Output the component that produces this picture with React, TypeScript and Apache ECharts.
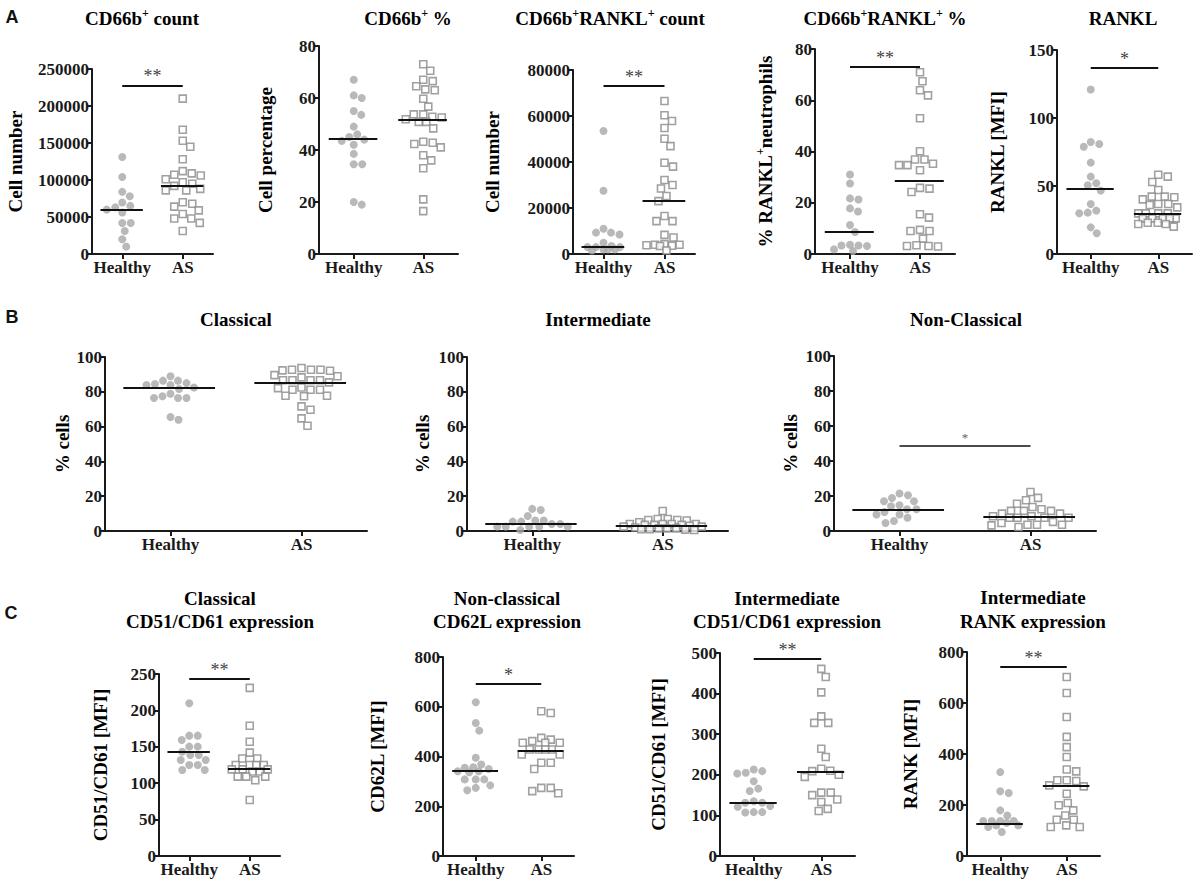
import React, { useEffect, useRef } from "react";
import * as echarts from "echarts";

// ---------------- data ----------------
const GROUPS = ["Healthy", "AS"];
const GROUP_X = [1, 3];

// Panel A
const cd66bCountHealthy = [131000, 104000, 84000, 78000, 69500, 65000, 63000, 60000, 56000, 42000, 42000, 31000, 20000, 10000];
const cd66bCountAS = [210000, 168000, 153000, 145000, 128000, 112000, 109000, 107000, 106000, 101000, 97000, 95000, 92000, 88000, 86000, 86000, 70000, 68000, 64000, 59000, 54000, 48000, 48000, 42000, 31000];
const cd66bCountMedian = [59600, 92000];

const cd66bPctHealthy = [67, 61, 60, 55, 53.5, 49, 46, 45, 44, 43.5, 42, 38.5, 34.5, 34.5, 20, 19];
const cd66bPctAS = [73, 70.5, 67, 66.5, 64.5, 63.3, 63, 59.7, 56.7, 53.7, 53.7, 52.8, 52.5, 51.8, 50.8, 50.8, 48.3, 43.2, 42.8, 42.3, 41, 38, 36, 33, 21, 16.5];
const cd66bPctMedian = [44.4, 51.8];

const rankCountHealthy = [53500, 27500, 11000, 9300, 9300, 8500, 4900, 3500, 3000, 3000, 3000, 2000, 2000, 2000, 1500];
const rankCountAS = [66500, 60300, 57800, 54800, 50100, 46900, 39700, 38000, 32200, 30000, 28500, 25200, 23000, 16500, 14300, 14300, 8300, 7200, 4300, 4000, 4000, 3800, 3600, 3500, 1500];
const rankCountMedian = [3200, 23000];

const rankPctHealthy = [31, 27.5, 21.7, 21.3, 17.8, 16.6, 11.3, 8.6, 3.6, 3.3, 3.3, 3.1, 1.8, 1.2];
const rankPctAS = [70.9, 67.4, 63.9, 61.9, 53, 40.1, 36.9, 36.9, 35.2, 34.7, 34.7, 32.7, 25.8, 25.5, 24.2, 15.5, 14.2, 9.4, 9, 9, 6, 3.4, 3.1, 3.1, 2.9];
const rankPctMedian = [8.6, 28.4];

const ranklMfiHealthy = [121, 82.4, 80.9, 78.9, 67.2, 56.9, 52, 50.5, 46.6, 36.8, 31.9, 30.4, 29.9, 19.6, 15.2];
const ranklMfiAS = [58.3, 56.9, 52.9, 47.1, 42.2, 42.2, 41.7, 40.2, 36.8, 36.8, 36, 34.3, 29.9, 29.9, 29.9, 29.9, 26.2, 26.2, 26.2, 26.2, 26.2, 23, 23, 22.1, 22.1, 20.1];
const ranklMfiMedian = [48.3, 29.5];

// Panel B
const classicalHealthy = [88.9, 86.4, 86.4, 85, 84.5, 83.9, 83.9, 82.5, 81.6, 78.9, 77.4, 76.4, 76.4, 76.4, 65.5, 63.9];
const classicalAS = [93.7, 92.7, 92.7, 92.3, 92.1, 92.7, 89.6, 88.9, 88.3, 86.6, 86.6, 86.6, 85.4, 86.6, 82.5, 81.2, 82.1, 81.2, 81.2, 77.7, 77.4, 77.7, 71.6, 69.7, 64.7, 60.5];
const classicalMedian = [82.1, 85.0];

const intermediateHealthy = [12.7, 12.1, 8.6, 6, 6, 5.4, 5.4, 4, 4, 2.5, 2.5, 2.5, 2.5, 2.5, 0.6];
const intermediateAS = [11.5, 6.9, 6.9, 6.3, 6.3, 6, 5, 4, 4, 4, 4, 3.5, 3.5, 3.5, 3, 2.5, 2.5, 2, 1.5, 1.5, 1.5, 1, 1, 0.8, 0.6];
const intermediateMedian = [4.2, 3.1];

const nonClassicalHealthy = [21.4, 20.4, 18.9, 17, 17, 14.7, 14.1, 12.4, 12.4, 10.9, 9.4, 9.4, 7.6, 5.7, 4.6];
const nonClassicalAS = [22.3, 18.9, 17.6, 15.6, 13.7, 12.4, 11.5, 11.5, 11.5, 9.9, 9.9, 8.4, 8.4, 7.6, 7.6, 7.6, 7.6, 5.2, 4.6, 3.6, 3.6, 3.6, 3.2, 2.3];
const nonClassicalMedian = [12.2, 8.0];

// Panel C
const classicalCd51Healthy = [209.7, 165.3, 165.3, 159.3, 150.2, 150.2, 143.3, 138.7, 138.7, 131.9, 131.9, 125, 125, 118.1, 118.1];
const classicalCd51AS = [231, 179, 157, 142, 134, 134, 125, 125, 125, 125, 119, 119, 119, 116, 116, 109, 109, 109, 104, 77];
const classicalCd51Median = [143, 120];

const nonClassicalCd62Healthy = [618, 535, 504, 395, 368, 357, 355, 350, 341, 341, 337, 308, 308, 308, 284, 274, 264];
const nonClassicalCd62AS = [582, 575, 475, 468, 462, 455, 455, 455, 428, 428, 428, 428, 408, 408, 375, 375, 350, 274, 274, 261, 252];
const nonClassicalCd62Median = [341, 425];

const intermediateCd51Healthy = [213, 209, 205, 203, 184, 166, 160, 135, 131, 131, 123, 121, 108, 108, 107];
const intermediateCd51AS = [461, 441, 403, 344, 328, 328, 264, 244, 215, 210, 209, 200, 195, 156, 156, 150, 139, 133, 116, 111];
const intermediateCd51Median = [130, 208];

const intermediateRankHealthy = [329, 254, 247, 179, 159, 137, 137, 137, 137, 130, 120, 120, 114, 94];
const intermediateRankAS = [702, 639, 545, 467, 427, 388, 339, 332, 297, 297, 294, 277, 273, 244, 208, 199, 179, 159, 142, 142, 120, 114, 114];
const intermediateRankMedian = [127, 277];

// significance annotations: [bar value, label]
const sigA1: [number, string] = [228000, "**"];
const sigA3: [number, string] = [73000, "**"];
const sigA4: [number, string] = [73, "**"];
const sigA5: [number, string] = [137, "*"];
const sigB3: [number, string] = [49, "*"];
const sigC1: [number, string] = [243, "**"];
const sigC2: [number, string] = [693, "*"];
const sigC3: [number, string] = [485, "**"];
const sigC4: [number, string] = [741, "**"];

// ---------------- layout ----------------
const SERIF = "Liberation Serif";
const SANS = "Liberation Sans";
const INK = "#1a1a1a";

type Panel = {
  left: number; top: number; width: number; height: number;
  yMax: number; yStep: number;
  healthy: number[]; as: number[]; medians: number[];
  sig?: [number, string];
  sigSmall?: boolean;
  title: string[]; titleX: number; titleY: number[];
  yLabel: string; yLabelX: number;
};

const panels: Panel[] = [
  { left: 92, top: 69, width: 121, height: 185, yMax: 250000, yStep: 50000, healthy: cd66bCountHealthy, as: cd66bCountAS, medians: cd66bCountMedian, sig: sigA1,
    title: ["{n|CD66b}{s|+}{n| count}"], titleX: 142, titleY: [18], yLabel: "{n|Cell number}", yLabelX: 15 },
  { left: 319, top: 46, width: 139, height: 208, yMax: 80, yStep: 20, healthy: cd66bPctHealthy, as: cd66bPctAS, medians: cd66bPctMedian,
    title: ["{n|CD66b}{s|+}{n| %}"], titleX: 408, titleY: [18], yLabel: "{n|Cell percentage}", yLabelX: 265 },
  { left: 573, top: 70, width: 122, height: 184, yMax: 80000, yStep: 20000, healthy: rankCountHealthy, as: rankCountAS, medians: rankCountMedian, sig: sigA3,
    title: ["{n|CD66b}{s|+}{n|RANKL}{s|+}{n| count}"], titleX: 610, titleY: [18], yLabel: "{n|Cell number}", yLabelX: 492 },
  { left: 815, top: 49, width: 140, height: 205, yMax: 80, yStep: 20, healthy: rankPctHealthy, as: rankPctAS, medians: rankPctMedian, sig: sigA4,
    title: ["{n|CD66b}{s|+}{n|RANKL}{s|+}{n| %}"], titleX: 885, titleY: [18], yLabel: "{n|% RANKL}{s|+}{n|neutrophils}", yLabelX: 765 },
  { left: 1057, top: 50, width: 135, height: 204, yMax: 150, yStep: 50, healthy: ranklMfiHealthy, as: ranklMfiAS, medians: ranklMfiMedian, sig: sigA5,
    title: ["{n|RANKL}"], titleX: 1123, titleY: [18], yLabel: "{n|RANKL [MFI]}", yLabelX: 997 },
  { left: 105, top: 357, width: 262, height: 174, yMax: 100, yStep: 20, healthy: classicalHealthy, as: classicalAS, medians: classicalMedian,
    title: ["{n|Classical}"], titleX: 236, titleY: [319], yLabel: "{n|% cells}", yLabelX: 62 },
  { left: 467, top: 357, width: 261, height: 174, yMax: 100, yStep: 20, healthy: intermediateHealthy, as: intermediateAS, medians: intermediateMedian,
    title: ["{n|Intermediate}"], titleX: 598, titleY: [319], yLabel: "{n|% cells}", yLabelX: 422 },
  { left: 834, top: 356, width: 262, height: 175, yMax: 100, yStep: 20, healthy: nonClassicalHealthy, as: nonClassicalAS, medians: nonClassicalMedian, sig: sigB3, sigSmall: true,
    title: ["{n|Non-Classical}"], titleX: 966, titleY: [319], yLabel: "{n|% cells}", yLabelX: 790 },
  { left: 159, top: 674, width: 121, height: 182, yMax: 250, yStep: 50, healthy: classicalCd51Healthy, as: classicalCd51AS, medians: classicalCd51Median, sig: sigC1,
    title: ["{n|Classical}", "{n|CD51/CD61 expression}"], titleX: 220, titleY: [598, 621], yLabel: "{n|CD51/CD61 [MFI]}", yLabelX: 100 },
  { left: 443, top: 657, width: 131, height: 199, yMax: 800, yStep: 200, healthy: nonClassicalCd62Healthy, as: nonClassicalCd62AS, medians: nonClassicalCd62Median, sig: sigC2,
    title: ["{n|Non-classical}", "{n|CD62L expression}"], titleX: 507, titleY: [598, 621], yLabel: "{n|CD62L [MFI]}", yLabelX: 377 },
  { left: 720, top: 653, width: 135, height: 203, yMax: 500, yStep: 100, healthy: intermediateCd51Healthy, as: intermediateCd51AS, medians: intermediateCd51Median, sig: sigC3,
    title: ["{n|Intermediate}", "{n|CD51/CD61 expression}"], titleX: 787, titleY: [598, 621], yLabel: "{n|CD51/CD61 [MFI]}", yLabelX: 658 },
  { left: 967, top: 652, width: 133, height: 204, yMax: 800, yStep: 200, healthy: intermediateRankHealthy, as: intermediateRankAS, medians: intermediateRankMedian, sig: sigC4,
    title: ["{n|Intermediate}", "{n|RANK expression}"], titleX: 1033, titleY: [597, 621], yLabel: "{n|RANK [MFI]}", yLabelX: 910 },
];

const panelLetters: [string, number, number][] = [["A", 12, 17], ["B", 12, 317], ["C", 11, 613]];

// beeswarm: deterministic horizontal offsets (in px), bounded to +-maxOff
function swarmOffsets(values: number[], pxPerValue: number, dist: number, maxOff: number): number[] {
  const order = values.map((_, i) => i).sort((a, b) => values[b] - values[a]);
  const placed: { x: number; y: number }[] = [];
  const out = new Array(values.length).fill(0);
  for (const i of order) {
    const y = values[i] * pxPerValue;
    let best = 0;
    let bestScore = -1;
    for (let k = 0; ; k++) {
      const step = Math.ceil(k / 2) * 0.5;
      if (step > maxOff) break;
      const cand = k % 2 === 1 ? step : -step;
      let minD = Infinity;
      for (const p of placed) {
        const d = Math.hypot(p.x - cand, p.y - y);
        if (d < minD) minD = d;
      }
      if (minD >= dist) { best = cand; break; }
      if (minD > bestScore + 0.3) { bestScore = minD; best = cand; }
    }
    placed.push({ x: best, y });
    out[i] = best;
  }
  return out;
}

function richStyles(size: number) {
  return {
    n: { fontFamily: SERIF, fontWeight: "bold", fontSize: size, lineHeight: size + 4, verticalAlign: "middle", color: INK },
    s: { fontFamily: SERIF, fontWeight: "bold", fontSize: Math.round(size * 0.62), lineHeight: Math.round(size * 0.62), verticalAlign: "top", color: INK, padding: [0, 0, 6, 0] },
  };
}

function buildOption() {
  const grid: any[] = [];
  const xAxis: any[] = [];
  const yAxis: any[] = [];
  const series: any[] = [];
  const graphic: any[] = [];

  panels.forEach((p, i) => {
    grid.push({ left: p.left, top: p.top, width: p.width, height: p.height });
    xAxis.push({
      gridIndex: i, type: "value", min: 0, max: 4,
      axisLine: { show: true, onZero: false, lineStyle: { color: INK, width: 2 } },
      axisTick: { show: true, customValues: GROUP_X, length: 5, lineStyle: { color: INK, width: 2 } },
      axisLabel: {
        customValues: GROUP_X, margin: 5,
        formatter: (v: number) => GROUPS[GROUP_X.indexOf(Math.round(v))] ?? "",
        fontFamily: SERIF, fontWeight: "bold", fontSize: 17, color: INK,
      },
      splitLine: { show: false },
    });
    yAxis.push({
      gridIndex: i, type: "value", min: 0, max: p.yMax, interval: p.yStep,
      axisLine: { show: true, onZero: false, lineStyle: { color: INK, width: 2 } },
      axisTick: { show: true, length: 5, lineStyle: { color: INK, width: 2 } },
      axisLabel: { margin: 3, formatter: (v: number) => String(v), fontFamily: SERIF, fontWeight: "bold", fontSize: 17, color: INK },
      splitLine: { show: false },
    });

    const pxY = p.height / p.yMax;
    const pxX = p.width / 4;
    const hOff = swarmOffsets(p.healthy, pxY, 8.4, 0.55 * pxX);
    const aOff = swarmOffsets(p.as, pxY, 9.2, 0.6 * pxX);

    const lines: any[] = [];
    p.medians.forEach((m, g) => {
      lines.push([{ coord: [GROUP_X[g] - 0.72, m] }, { coord: [GROUP_X[g] + 0.68, m] }]);
    });
    if (p.sig) {
      const lbl = {
        show: true, position: "middle", formatter: p.sig[1], distance: p.sigSmall ? 1 : 0,
        fontFamily: SERIF, fontSize: p.sigSmall ? 13 : 18, color: p.sigSmall ? "#666" : "#444",
      };
      lines.push([
        { coord: [GROUP_X[0], p.sig[0]], label: lbl, lineStyle: { width: p.sigSmall ? 1.5 : 2 } },
        { coord: [GROUP_X[1], p.sig[0]] },
      ]);
    }

    series.push({
      type: "scatter", xAxisIndex: i, yAxisIndex: i, silent: true, clip: false,
      symbol: "circle", symbolSize: 8,
      itemStyle: { color: "#a8a8a8" },
      data: p.healthy.map((v, k) => [GROUP_X[0] + hOff[k] / pxX, v]),
      z: 2,
    });
    series.push({
      type: "scatter", xAxisIndex: i, yAxisIndex: i, silent: true, clip: false,
      symbol: "rect", symbolSize: 7,
      itemStyle: { color: "#ffffff", borderColor: "#8a8a8a", borderWidth: 1.6 },
      data: p.as.map((v, k) => [GROUP_X[1] + aOff[k] / pxX, v]),
      z: 2,
      markLine: {
        silent: true, symbol: ["none", "none"], animation: false, z: 5,
        lineStyle: { color: "#111", width: 2, type: "solid" },
        label: { show: false },
        emphasis: { disabled: true },
        data: lines,
      },
    });

    p.title.forEach((t, li) => {
      graphic.push({
        type: "text", x: p.titleX, y: p.titleY[li], silent: true,
        style: { text: t, rich: richStyles(19), align: "center", verticalAlign: "middle", textAlign: "center", textVerticalAlign: "middle" },
      });
    });
    graphic.push({
      type: "text", x: p.yLabelX, y: p.top + p.height / 2, rotation: Math.PI / 2, silent: true,
      style: { text: p.yLabel, rich: richStyles(19), align: "center", verticalAlign: "middle", textAlign: "center", textVerticalAlign: "middle" },
    });
  });

  panelLetters.forEach(([l, x, y]) => {
    graphic.push({
      type: "text", x, y, silent: true,
      style: { text: l, fontFamily: SANS, fontWeight: "bold", fontSize: 18, fill: "#111", align: "center", verticalAlign: "middle", textAlign: "center", textVerticalAlign: "middle" },
    });
  });

  return { animation: false, backgroundColor: "#ffffff", grid, xAxis, yAxis, series, graphic };
}

export default function App() {
  const ref = useRef<HTMLDivElement>(null);
  useEffect(() => {
    if (!ref.current) return;
    const chart = echarts.init(ref.current, null, { renderer: "svg" });
    chart.setOption(buildOption() as any);
    return () => chart.dispose();
  }, []);
  return (
    <div
      ref={ref}
      style={{ position: "absolute", left: 0, top: 0, width: 1196, height: 889, background: "#fff" }}
    />
  );
}
